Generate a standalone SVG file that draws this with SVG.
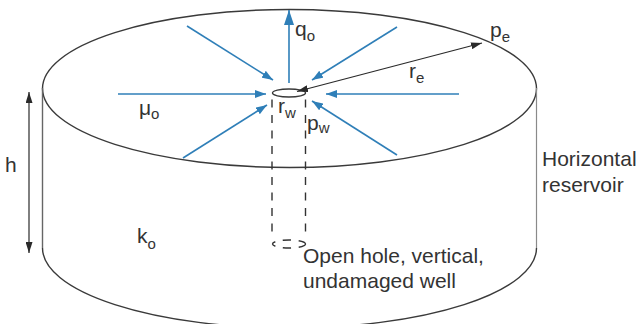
<svg xmlns="http://www.w3.org/2000/svg" width="640" height="324" viewBox="0 0 640 324">
<style>
text{font-family:"Liberation Sans",Arial,sans-serif;font-size:21px;fill:#333}
.s{font-size:15px}
.b{fill:none;stroke:#3a3a3a;stroke-width:1.4}
.w{fill:none;stroke:#8a8a8a;stroke-width:1.2}
.f{stroke:#2f7fb8;stroke-width:1.6;fill:none;marker-end:url(#ba)}
.k{stroke:#2a2a2a;stroke-width:1.2;fill:none}
.d{fill:none;stroke:#333;stroke-width:1.4;stroke-dasharray:8 7.500}
</style>
<defs>
<marker id="ba" markerUnits="userSpaceOnUse" markerWidth="12" markerHeight="8" refX="11" refY="4" orient="auto"><path d="M0 0L11 4L0 8Z" fill="#2f7fb8"/></marker>
<marker id="bu" markerUnits="userSpaceOnUse" markerWidth="15" markerHeight="10" refX="15" refY="5" orient="auto"><path d="M0 0L15 5L0 10Z" fill="#2f7fb8"/></marker>
<marker id="ka" markerUnits="userSpaceOnUse" markerWidth="12" markerHeight="7" refX="11" refY="3.500" orient="auto-start-reverse"><path d="M0 0L11 3.500L0 7Z" fill="#2a2a2a"/></marker>
</defs>
<g id="reservoir">
<ellipse class="b" cx="289.500" cy="88.500" rx="247" ry="79"/>
<path class="b" style="stroke:#666" d="M42.500 88V248"/>
<path class="w" d="M536.500 88V248"/>
<path class="b" d="M42.500 248A247 80 0 0 0 536.500 248"/>
</g>
<g id="well">
<ellipse class="b" cx="289" cy="93" rx="16.500" ry="4"/>
<path class="d" d="M272 99.500V238M305.500 99.500V238"/>
<ellipse class="d" cx="289" cy="244" rx="16.500" ry="4"/>
</g>
<g id="connectors">
<path class="f" style="marker-end:url(#bu)" d="M289 83V10"/>
<path class="f" d="M187 26L273 80"/>
<path class="f" d="M397 27L312 80"/>
<path class="f" d="M118 94H266"/>
<path class="f" d="M459 94H326"/>
<path class="f" d="M183 158L267 105"/>
<path class="f" d="M397 155L312 101"/>
<path class="k" style="marker-start:url(#ka);marker-end:url(#ka)" d="M297 91.500L482 43"/>
<path class="k" style="marker-start:url(#ka);marker-end:url(#ka)" d="M29 92V253"/>
</g>
<g id="labels">
<text x="295" y="36">q<tspan class="s" dy="5">o</tspan></text>
<text x="490" y="36.500">p<tspan class="s" dy="5">e</tspan></text>
<text x="409" y="78">r<tspan class="s" dy="5">e</tspan></text>
<text x="139" y="115">μ<tspan class="s" dy="4">o</tspan></text>
<text x="278" y="113">r<tspan class="s" dy="5">w</tspan></text>
<text x="307" y="130">p<tspan class="s" dy="3">w</tspan></text>
<text x="5" y="172">h</text>
<text x="137" y="243">k<tspan class="s" dy="6">o</tspan></text>
<text x="542" y="166">Horizontal</text>
<text x="542" y="192">reservoir</text>
<text x="303" y="263">Open hole, vertical,</text>
<text x="303" y="288">undamaged well</text>
</g>
</svg>
